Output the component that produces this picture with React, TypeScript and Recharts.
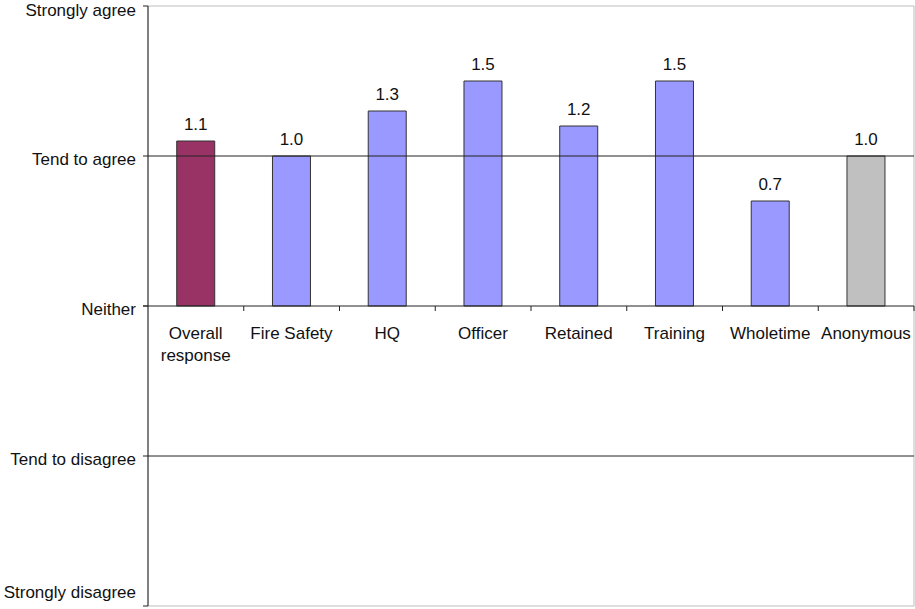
import React from "react";
import {
  Bar,
  BarChart,
  Cell,
  LabelList,
  ReferenceArea,
  ReferenceLine,
  Text,
  XAxis,
  YAxis,
} from "recharts";

const categories = [
  "Overall response",
  "Fire Safety",
  "HQ",
  "Officer",
  "Retained",
  "Training",
  "Wholetime",
  "Anonymous",
];
const scores = [1.1, 1.0, 1.3, 1.5, 1.2, 1.5, 0.7, 1.0];
const barColors = [
  "#993366",
  "#9999FF",
  "#9999FF",
  "#9999FF",
  "#9999FF",
  "#9999FF",
  "#9999FF",
  "#C0C0C0",
];
const yTicks = [-2, -1, 0, 1, 2];
const yTickLabels: Record<number, string> = {
  2: "Strongly agree",
  1: "Tend to agree",
  0: "Neither",
  "-1": "Tend to disagree",
  "-2": "Strongly disagree",
};

const FONT = "'Liberation Sans', Arial, sans-serif";
const INK = "#111";
const LINE = "#222";

const chartData = categories.map((name, i) => ({
  name,
  score: scores[i],
  fill: barColors[i],
}));

function YTick(props: any) {
  const { x, y, payload } = props;
  const v = payload.value as number;
  // Excel keeps the end labels inside the plot height
  const shift = v === -2 ? -14 : v === 2 ? 4 : 3;
  return (
    <text
      x={x}
      y={y + shift}
      dy="0.35em"
      textAnchor="end"
      fill={INK}
      fontSize={17}
      fontFamily={FONT}
    >
      {yTickLabels[v]}
    </text>
  );
}

function ZeroAxis(props: any) {
  const { x1, y1, x2 } = props;
  const step = (x2 - x1) / categories.length;
  return (
    <g>
      <line x1={x1 - 5} y1={y1} x2={x2} y2={y1} stroke={LINE} strokeWidth={1} />
      {categories.map((_, i) => (
        <line
          key={i}
          x1={x1 + step * (i + 1)}
          x2={x1 + step * (i + 1)}
          y1={y1}
          y2={y1 + 5}
          stroke={LINE}
          strokeWidth={1}
        />
      ))}
    </g>
  );
}

function CategoryLabel(props: any) {
  const { x, y, width, height, value } = props;
  const words = String(value).length > 12 ? String(value).split(" ") : [String(value)];
  return (
    <g>
      {words.map((w, i) => (
        <Text
          key={i}
          x={x + width / 2}
          y={y + height + 21 + i * 22}
          textAnchor="middle"
          verticalAnchor="start"
          fill={INK}
          fontSize={17}
          fontFamily={FONT}
        >
          {w}
        </Text>
      ))}
    </g>
  );
}

export default function App() {
  return (
    <div style={{ position: "absolute", left: 0, top: 0, background: "#fff" }}>
      <BarChart
        width={915}
        height={609}
        data={chartData}
        margin={{ top: 6, right: 1, bottom: 3, left: 0 }}
        barCategoryGap="30%"
      >
        <XAxis dataKey="name" hide />
        <YAxis
          width={148}
          domain={[-2, 2]}
          ticks={yTicks}
          interval={0}
          axisLine={{ stroke: LINE }}
          tickLine={{ stroke: LINE }}
          tickSize={5}
          tickMargin={7}
          tick={<YTick />}
        />
        <ReferenceArea y1={-2} y2={2} stroke="#BDBDBD" fill="none" />
        <ReferenceLine y={1} stroke={LINE} />
        <ReferenceLine y={-1} stroke={LINE} />
        <Bar dataKey="score" stroke="#333" strokeWidth={1} isAnimationActive={false}>
          {chartData.map((d, i) => (
            <Cell key={i} fill={d.fill} />
          ))}
          <LabelList
            dataKey="score"
            position="top"
            offset={11}
            formatter={(v: any) => Number(v).toFixed(1)}
            fill={INK}
            fontSize={17}
            fontFamily={FONT}
          />
          <LabelList dataKey="name" content={<CategoryLabel />} />
        </Bar>
        <ReferenceLine y={0} shape={<ZeroAxis />} />
      </BarChart>
    </div>
  );
}
